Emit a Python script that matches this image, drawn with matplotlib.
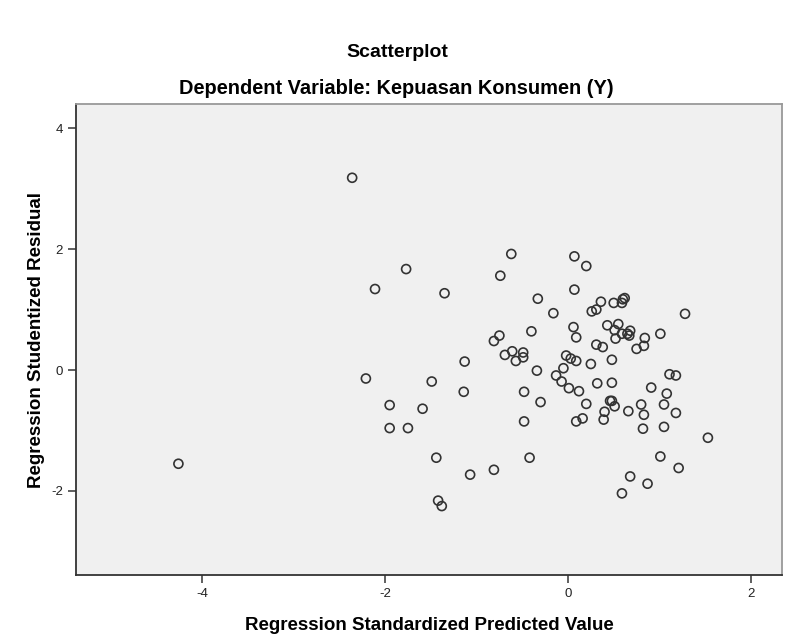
import matplotlib
matplotlib.use("Agg")
import matplotlib.pyplot as plt

plt.rcParams['font.family'] = ['Liberation Sans', 'DejaVu Sans']
plt.rcParams['axes.unicode_minus'] = False

# Regression Standardized Predicted Value
pred = [-4.26, -2.36, -0.62, -1.77, -0.74, -2.11, -1.35, -0.33, -0.16, -0.40,
        -0.75, -0.81, -0.61, -0.69, -0.49, -0.49, -0.57, -1.13, -0.34, -2.21,
        -1.49, -1.14, -0.48, -0.30, -1.95, -1.59, -0.48, -1.95, -1.75, -1.44,
        -0.42, -0.81, -1.07, -1.42, -1.38, 0.07, 0.20, 0.07, 0.36, 0.50,
        0.59, 0.62, 0.60, 0.31, 0.26, 1.28, 0.06, 0.09, 0.43, 0.55,
        0.51, 0.52, 0.59, 0.65, 0.68, 0.67, 0.84, 1.01, 0.83, 0.75,
        0.31, 0.38, -0.02, 0.03, 0.09, -0.05, 0.25, 0.48, -0.13, 1.11,
        1.18, -0.07, 0.01, 0.12, 0.32, 0.48, 0.91, 1.08, 0.20, 0.46,
        0.48, 0.51, 0.40, 0.39, 0.16, 0.09, 0.66, 0.80, 0.83, 0.82,
        1.05, 1.18, 1.05, 1.53, 1.01, 1.21, 0.68, 0.87, 0.59]

# Regression Studentized Residual
resid = [-1.55, 3.18, 1.92, 1.67, 1.56, 1.34, 1.27, 1.18, 0.94, 0.64,
         0.57, 0.48, 0.31, 0.25, 0.29, 0.21, 0.15, 0.14, -0.01, -0.14,
         -0.19, -0.36, -0.36, -0.53, -0.58, -0.64, -0.85, -0.96, -0.96, -1.45,
         -1.45, -1.65, -1.73, -2.16, -2.25, 1.88, 1.72, 1.33, 1.13, 1.11,
         1.11, 1.19, 1.17, 1.00, 0.97, 0.93, 0.71, 0.54, 0.74, 0.76,
         0.66, 0.52, 0.60, 0.60, 0.65, 0.57, 0.53, 0.60, 0.40, 0.35,
         0.42, 0.38, 0.24, 0.19, 0.15, 0.03, 0.10, 0.17, -0.09, -0.07,
         -0.09, -0.19, -0.30, -0.35, -0.22, -0.21, -0.29, -0.39, -0.56, -0.51,
         -0.51, -0.60, -0.69, -0.82, -0.80, -0.85, -0.68, -0.57, -0.74, -0.97,
         -0.57, -0.71, -0.94, -1.12, -1.43, -1.62, -1.76, -1.88, -2.04]

x_ticks = [-4, -2, 0, 2]
y_ticks = [-2, 0, 2, 4]

fig = plt.figure(figsize=(7.99, 6.35), dpi=100)
ax = fig.add_axes([0.0951, 0.0945, 0.8836, 0.7417])
ax.set_facecolor("#f0f0f0")

ax.scatter(pred, resid, s=42, facecolors="none", edgecolors="#333333", linewidths=1.2)

ax.set_xlim(-5.38, 2.34)
ax.set_ylim(-3.39, 4.40)
ax.set_xticks(x_ticks)
ax.set_yticks(y_ticks)
ax.tick_params(direction="out", length=6, width=1.2, color="#444444", labelsize=9.5, labelcolor="#222222")

for side in ["left", "bottom"]:
    ax.spines[side].set_color("#333333")
    ax.spines[side].set_linewidth(1.3)
for side in ["top", "right"]:
    ax.spines[side].set_color("#999999")
    ax.spines[side].set_linewidth(1.3)

ax.set_xlabel("Regression Standardized Predicted Value", fontsize=13.5, fontweight="bold", labelpad=12)
ax.set_ylabel("Regression Studentized Residual", fontsize=13.5, fontweight="bold", labelpad=4)

fig.text(0.4975, 0.918, "Scatterplot", ha="center", va="center", fontsize=14, fontweight="bold")
fig.text(0.4965, 0.860, "Dependent Variable: Kepuasan Konsumen (Y)", ha="center", va="center",
         fontsize=14.4, fontweight="bold")

fig.savefig("out.png", dpi=100, facecolor="white")
